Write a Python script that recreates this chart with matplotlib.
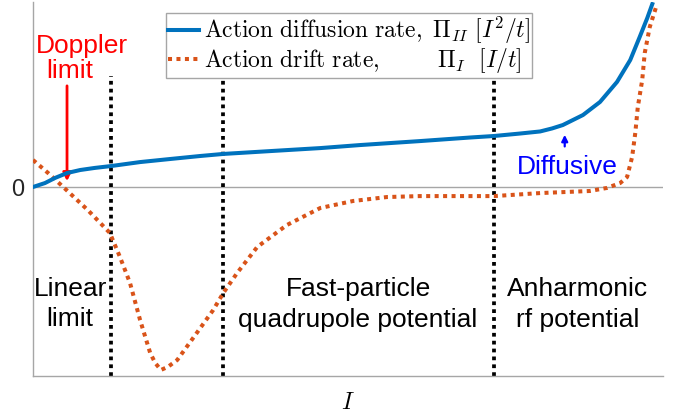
import matplotlib
matplotlib.use('Agg')
import matplotlib.pyplot as plt

plt.rcParams['mathtext.fontset'] = 'cm'
plt.rcParams['font.family'] = ['Liberation Sans', 'DejaVu Sans']

# action axis I (arbitrary units, 0..1) and the two rates (arbitrary units)
I_diff = [0, .019, .035, .054, .075, .098, .124, .170, .217, .265, .302, .376, .456,
          .519, .614, .694, .732, .773, .805, .824, .841, .873, .900, .927, .948,
          .963, .975, .983]
diffusion = [0, .021, .048, .074, .090, .101, .111, .132, .148, .164, .175, .190, .206,
             .222, .243, .262, .270, .283, .294, .310, .328, .381, .450, .556, .672,
             .794, .894, .968]

I_drift = [0, .024, .048, .087, .122, .138, .154, .170, .186, .194, .203, .214, .229,
           .260, .286, .302, .324, .356, .403, .456, .508, .562, .614, .732, .805,
           .884, .911, .932, .943, .951, .956, .960, .967, .971, .979, .989]
drift = [.143, .074, 0, -.122, -.243, -.370, -.508, -.704, -.878, -.931, -.968, -.952,
         -.915, -.772, -.651, -.561, -.455, -.317, -.201, -.111, -.074, -.053, -.048,
         -.048, -.032, -.021, -.005, .021, .053, .159, .286, .423, .566, .709, .847, .952]

# region boundaries
boundaries = [.124, .302, .732]
boundary_top = .587

doppler_I = .054
diffusive_I = .844

blue = '#0072BD'
orange = '#D95319'

fig = plt.figure(figsize=(6.74, 4.16), dpi=100, facecolor='w')
ax = fig.add_axes([33/674, 40/416, 630/674, 374/416])

ax.axhline(0, color='#a6a6a6', lw=1.0, zorder=1)
for b in boundaries:
    ax.plot([b, b], [-1, boundary_top], color='k', lw=2.7,
            linestyle=(0, (1, 1.1)), zorder=2)

ax.plot(I_diff, diffusion, color=blue, lw=2.9, zorder=4,
        label=r'$\mathrm{Action\ diffusion\ rate,}\ \Pi_{II}\ [I^2/t]$')
ax.plot(I_drift, drift, color=orange, lw=2.9, linestyle=(0, (1, 1.1)), zorder=3,
        label=r'$\mathrm{Action\ drift\ rate,}\hspace{2.6}\Pi_{I}\ \ [I/t]$')

# annotations
ax.annotate('', xy=(doppler_I, .016), xytext=(doppler_I, .550),
            arrowprops=dict(arrowstyle='-|>', color='red', lw=2, mutation_scale=12))
ax.text(.078, .709, 'Doppler', color='red', fontsize=19, ha='center', va='baseline')
ax.text(.058, .577, 'limit', color='red', fontsize=19, ha='center', va='baseline')

ax.annotate('', xy=(diffusive_I, .291), xytext=(diffusive_I, .200),
            arrowprops=dict(arrowstyle='-|>', color='#0000ff', lw=1.6, mutation_scale=9))
ax.text(.848, .069, 'Diffusive', color='#0000ff', fontsize=19, ha='center', va='baseline')

ax.text(.059, -.577, 'Linear', fontsize=19, ha='center', va='baseline')
ax.text(.059, -.735, 'limit', fontsize=19, ha='center', va='baseline')
ax.text(.516, -.577, 'Fast-particle', fontsize=19, ha='center', va='baseline')
ax.text(.516, -.741, 'quadrupole potential', fontsize=19, ha='center', va='baseline')
ax.text(.865, -.577, 'Anharmonic', fontsize=19, ha='center', va='baseline')
ax.text(.865, -.741, 'rf potential', fontsize=19, ha='center', va='baseline')

ax.set_xlim(0, 1)
ax.set_ylim(-1, .979)
ax.set_xticks([])
ax.set_yticks([0])
ax.set_yticklabels(['0'])
ax.tick_params(axis='y', length=0, pad=6, labelsize=17, labelcolor='#262626')
for side in ['top', 'right']:
    ax.spines[side].set_visible(False)
for side in ['left', 'bottom']:
    ax.spines[side].set_color('#a6a6a6')
    ax.spines[side].set_linewidth(1.0)

ax.set_xlabel(r'$I$', fontsize=17)
ax.xaxis.set_label_coords(.5, -.043)

leg = ax.legend(loc='upper left', bbox_to_anchor=(166/674, 1 - 13/416),
                bbox_transform=fig.transFigure, borderaxespad=0, fontsize=17,
                handlelength=1.3, handletextpad=0.2, borderpad=0.1,
                labelspacing=0.0, fancybox=False, framealpha=1)
leg.get_frame().set_edgecolor('#a6a6a6')
leg.get_frame().set_linewidth(1.0)

fig.savefig('out.png', dpi=100)
plt.close()
